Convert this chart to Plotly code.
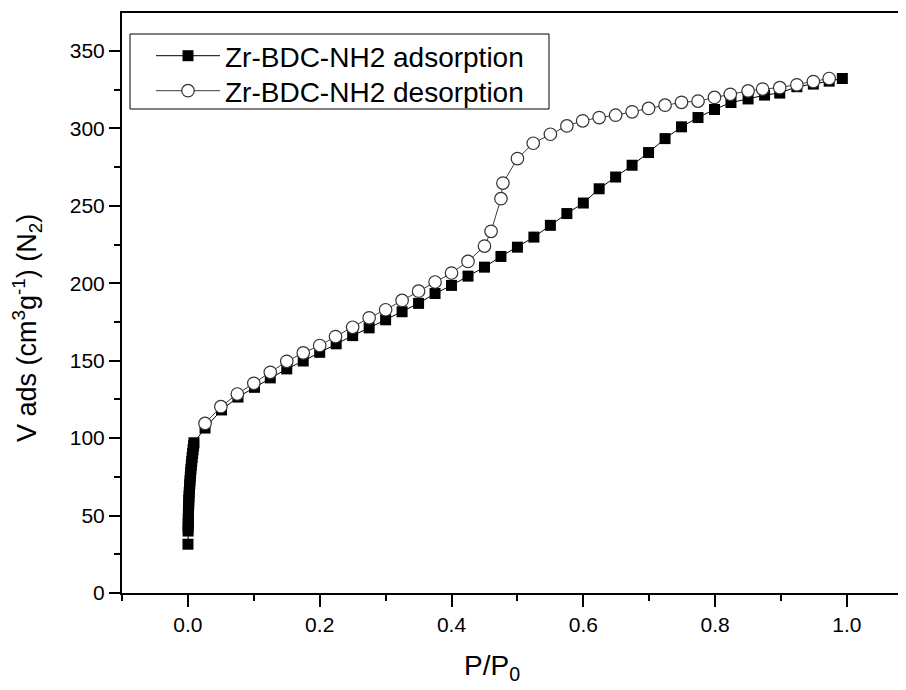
import plotly.graph_objects as go

# Adsorption branch (P/P0, V ads)
ads_p = [0.0001, 0.0003, 0.0004, 0.0005, 0.0006, 0.0007, 0.0008, 0.0010, 0.0012, 0.0014,
         0.0017, 0.0020, 0.0024, 0.0028, 0.0032, 0.0036, 0.0041, 0.0046, 0.0052, 0.0058,
         0.0064, 0.0071, 0.0078, 0.0086, 0.0092, 0.026, 0.051, 0.076, 0.101, 0.125,
         0.150, 0.175, 0.200, 0.225, 0.250, 0.275, 0.300, 0.325, 0.350, 0.375,
         0.400, 0.425, 0.450, 0.475, 0.500, 0.525, 0.550, 0.575, 0.600, 0.624,
         0.649, 0.674, 0.699, 0.724, 0.749, 0.774, 0.799, 0.824, 0.850, 0.875,
         0.898, 0.924, 0.949, 0.973, 0.993]
ads_v = [31.5, 40, 42.5, 45, 47.5, 50, 52.5, 55, 57.5, 60,
         62.5, 65, 67.5, 70, 72.5, 75, 77.5, 80, 82.5, 85,
         87.5, 90, 92.5, 95, 97, 106.5, 118.2, 126.5, 132.8, 138.9,
         144.7, 149.8, 155.4, 160.9, 166.2, 171.2, 176.4, 181.6, 187.0, 193.4,
         198.6, 204.6, 210.4, 217.3, 223.3, 229.8, 237.4, 245.0, 251.8, 261.0,
         268.6, 276.2, 284.4, 293.4, 301.0, 307.0, 312.2, 316.7, 319.0, 321.5,
         322.8, 326.9, 328.6, 330.5, 332.2]

# Desorption branch
des_p = [0.973, 0.949, 0.924, 0.898, 0.872, 0.850, 0.823, 0.799, 0.774, 0.749,
         0.724, 0.699, 0.674, 0.649, 0.624, 0.599, 0.575, 0.550, 0.524, 0.500,
         0.478, 0.475, 0.460, 0.450, 0.425, 0.400, 0.375, 0.350, 0.325, 0.300,
         0.275, 0.250, 0.224, 0.200, 0.175, 0.150, 0.125, 0.100, 0.075, 0.050, 0.026]
des_v = [332.2, 330.2, 328.1, 326.3, 325.4, 324.2, 322.0, 320.0, 317.6, 316.8,
         315.0, 312.9, 310.7, 308.5, 307.0, 304.9, 301.6, 296.2, 290.4, 280.5,
         264.7, 254.6, 233.5, 224.0, 214.1, 206.6, 200.8, 194.9, 188.9, 182.9,
         177.7, 171.6, 165.6, 159.8, 155.0, 149.6, 142.5, 135.4, 128.5, 120.3, 109.5]

series_names = ["Zr-BDC-NH2 adsorption", "Zr-BDC-NH2 desorption"]
x_ticks = [0.0, 0.2, 0.4, 0.6, 0.8, 1.0]
x_ticklabels = ["0.0", "0.2", "0.4", "0.6", "0.8", "1.0"]
y_ticks = [0, 50, 100, 150, 200, 250, 300, 350]

FONT = "Liberation Sans, Arial, sans-serif"

# page body has an 8px margin; the figure is sized to fit the 906x690 window
W, H = 898, 682
ML, MR, MT, MB = 114, 0, 5, 97
PW, PH = W - ML - MR, H - MT - MB
OX, OY = 8 + ML, 8 + MT  # screen position of plot area top-left


def px_x(sx):
    return (sx - OX) / PW


def px_y(sy):
    return (OY + PH - sy) / PH


fig = go.Figure()
fig.add_trace(go.Scatter(
    x=ads_p, y=ads_v, mode="lines+markers",
    name=series_names[0], legend="legend",
    line=dict(color="black", width=1),
    marker=dict(symbol="square", size=11, color="black", line=dict(width=0)),
))
fig.add_trace(go.Scatter(
    x=des_p, y=des_v, mode="lines+markers",
    name=series_names[1], legend="legend2",
    line=dict(color="#3a3a3a", width=1),
    marker=dict(symbol="circle", size=12.5, color="white", line=dict(color="#333333", width=1.2)),
))

legend_common = dict(
    xanchor="left", yanchor="top",
    bgcolor="rgba(0,0,0,0)", borderwidth=0,
    font=dict(size=28, family=FONT, color="black"),
    itemwidth=64,
)

fig.update_layout(
    width=W, height=H,
    margin=dict(l=ML, r=MR, t=MT, b=MB, autoexpand=False),
    paper_bgcolor="white", plot_bgcolor="white",
    font=dict(family=FONT, color="black"),
    showlegend=True,
    legend=dict(x=px_x(151), y=px_y(31), **legend_common),
    legend2=dict(x=px_x(151), y=px_y(66), **legend_common),
    xaxis=dict(
        range=[-0.1, 1.0896], showgrid=False, zeroline=False,
        showline=True, linecolor="black", linewidth=2, mirror=True,
        ticks="outside", ticklen=12, tickwidth=2, tickcolor="black",
        tickvals=x_ticks, ticktext=x_ticklabels,
        tickfont=dict(size=21, family=FONT),
        minor=dict(dtick=0.1, tick0=0, ticks="outside", ticklen=6, tickwidth=2, tickcolor="black"),
    ),
    yaxis=dict(
        range=[0, 374.5], showgrid=False, zeroline=False,
        showline=True, linecolor="black", linewidth=2, mirror=False,
        ticks="outside", ticklen=11, tickwidth=2, tickcolor="black",
        tickvals=y_ticks,
        tickfont=dict(size=21, family=FONT),
        minor=dict(dtick=25, tick0=0, ticks="outside", ticklen=6, tickwidth=2, tickcolor="black"),
    ),
    shapes=[
        dict(type="rect", xref="paper", yref="paper",
             x0=px_x(130), x1=px_x(549), y0=px_y(109), y1=px_y(34),
             line=dict(color="black", width=1), fillcolor="rgba(0,0,0,0)", layer="above"),
    ],
    annotations=[
        dict(text="P/P<sub>0</sub>", xref="paper", yref="paper", x=px_x(492), y=px_y(667),
             xanchor="center", yanchor="middle", showarrow=False, font=dict(size=28, family=FONT)),
        dict(text="V ads (cm<sup>3</sup>g<sup>-1</sup>) (N<sub>2</sub>)", xref="paper", yref="paper",
             x=px_x(27), y=px_y(328), textangle=-90,
             xanchor="center", yanchor="middle", showarrow=False, font=dict(size=27, family=FONT)),
    ],
)

fig.write_html("out.html")
